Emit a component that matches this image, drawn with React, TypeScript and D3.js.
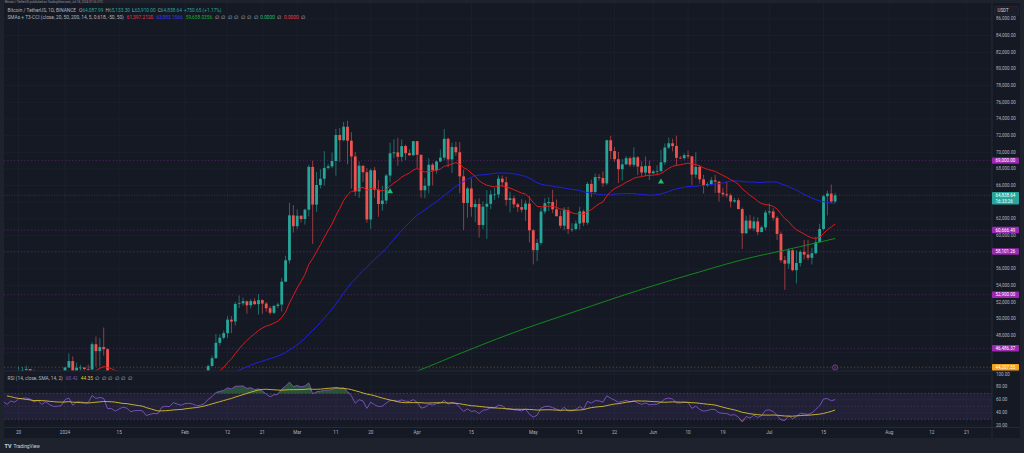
import React, { useEffect, useRef } from 'react';
import * as d3 from 'd3';

// BTCUSDT 1D (Binance). Closes before the first visible candle, only used to warm up EMA / SMA / RSI
const warmupStart = '2023-11-20';
const warmupCloses = [
  37475, 35813, 37432, 37289, 37720, 37796, 37479, 37254, 37831, 37858, 37712,
  38688, 39476, 39978, 41980, 44080, 43746, 43293, 44170, 43713, 43789, 41253, 41492, 42869, 43022,
];

// visible candles, from 2023-12-15 to 2024-07-18 (open = previous close)
const candleStart = '2023-12-15';
const firstOpen = 43022;
const closes = [
  // Dec
  41940, 42260, 41364, 42623, 42271, 43652, 43869, 43997, 43740, 43016, 43613, 42520, 43442, 42627, 42099, 42156, 42283,
  // Jan
  44179, 44946, 42845, 44151, 44162, 43989, 43943, 46970, 46139, 46627, 46368, 42853, 42842, 41732, 42511, 43154,
  42742, 41262, 41618, 41665, 41545, 39507, 39845, 40077, 39933, 41816, 42120, 42031, 43302, 42941, 42580,
  // Feb
  43082, 43200, 43011, 42582, 42708, 43098, 44349, 45288, 47132, 47751, 48299, 49917, 49699, 51795, 51880,
  52124, 51642, 52137, 51774, 52258, 51849, 51288, 50744, 51568, 51728, 54476, 57037, 62432, 61130,
  // Mar
  62387, 61988, 63113, 68245, 63724, 66075, 66823, 68124, 68313, 68955, 72078, 71452, 73072, 71388, 69499, 65300,
  68393, 67609, 61937, 67841, 65501, 63797, 64209, 67211, 69880, 69988, 69455, 70744, 69892, 69645, 71333,
  // Apr
  69702, 65446, 65981, 68508, 67838, 68896, 69360, 71620, 69146, 70631, 70006, 67116, 63924, 65661, 63419,
  63793, 61277, 63470, 63818, 64940, 64941, 66837, 66407, 64276, 64481, 63755, 63419, 63113, 63841, 60636,
  // May
  58254, 59123, 62890, 63891, 64031, 63162, 62334, 61187, 63049, 60793, 60793, 61448, 62901, 61552, 66206, 65235,
  67024, 66915, 66274, 71446, 70148, 69166, 67969, 68549, 69290, 68508, 69394, 68296, 67578, 68364, 67491,
  // Jun
  67706, 67751, 68804, 70567, 71082, 70757, 69342, 69306, 69648, 69508, 67321, 68243, 66756, 66012, 66191,
  66640, 66490, 65140, 64960, 64828, 64096, 64252, 63180, 60277, 61806, 60864, 61706, 60427, 60986, 62772,
  // Jul
  62899, 62135, 60208, 57050, 56639, 58232, 55857, 56714, 58051, 57725, 57340, 57890, 59204, 60797, 64724, 65043,
  64087, 64838.64,
];
const highs = [
  43080, 42424, 42600, 42750, 43500, 44283, 44240, 44400, 44000, 43950, 43800, 43600, 43680, 43790, 43120, 42600, 42900,
  44185, 45879, 45500, 44770, 44500, 44227, 44500, 47248, 47896, 47695, 48969, 46500, 43260, 43080, 43400, 43578,
  43198, 42930, 42200, 41870, 41885, 41680, 40130, 40550, 40280, 42225, 42200, 42842, 43305, 43880, 43745,
  43290, 43490, 43380, 43120, 43530, 43400, 44520, 45614, 48200, 48170, 48592, 50334, 50368, 52043, 52816,
  52572, 52200, 52394, 52485, 52985, 52370, 52020, 51550, 51690, 51960, 54910, 57588, 63913, 63680,
  63150, 62434, 63230, 68500, 69000, 67637, 67980, 70136, 68592, 69984, 72800, 72920, 73650, 73777, 72420, 70043,
  68920, 68230, 68124, 68030, 68240, 66650, 65970, 67400, 71150, 71561, 71727, 71552, 70913, 70355, 71366,
  71338, 69674, 66914, 69291, 68725, 69000, 70326, 72797, 71758, 71172, 71256, 71227, 67931, 65840, 66867,
  64365, 64475, 64117, 65450, 65442, 65723, 67233, 67208, 67075, 65275, 64789, 63923, 64370, 64228, 64734,
  60780, 59602, 63320, 64494, 64610, 65500, 64343, 62986, 63424, 63464, 61490, 61818, 63450, 63118, 66444, 66720,
  67451, 67400, 67700, 71515, 71979, 70650, 70041, 69220, 69563, 69500, 70600, 69552, 68920, 69500, 69000,
  67860, 68450, 70288, 71063, 71758, 71625, 71997, 69563, 69860, 70195, 69560, 69999, 68450, 67294, 66402,
  66999, 67298, 66488, 65738, 66482, 65066, 64525, 64522, 63369, 62400, 62486, 62293, 62200, 61197, 63058,
  63861, 63288, 62340, 60498, 57546, 58475, 58390, 58236, 58296, 59470, 59500, 58539, 59850, 61420, 64900, 65388,
  66128, 65133.3,
];
const lows = [
  41666, 41870, 41250, 40500, 41800, 42200, 43330, 43400, 43580, 42760, 42720, 41620, 42100, 42300, 41300, 41520, 41965,
  42180, 44150, 40750, 42630, 43300, 43400, 43580, 43180, 44300, 44300, 45600, 41500, 42440, 41720, 41720, 42050,
  42200, 40700, 40280, 41450, 41400, 39430, 38555, 39480, 39500, 39820, 41400, 41620, 41800, 42680, 42275,
  41884, 42580, 42880, 42222, 42260, 42575, 42800, 44330, 45242, 46800, 47540, 47710, 48300, 49225, 51310,
  51600, 50625, 51270, 51680, 50521, 50625, 50880, 50520, 50580, 51290, 50900, 54450, 56666, 60365,
  60778, 61590, 61320, 62300, 59005, 62848, 65655, 66000, 67944, 68088, 67194, 68845, 71334, 68555, 65630, 64780,
  64545, 66443, 61555, 60775, 64529, 62260, 63000, 63780, 66385, 69280, 68380, 68900, 69076, 69566, 69562,
  68062, 64550, 64493, 65064, 66011, 67435, 68824, 69040, 68210, 67518, 69571, 65086, 60660, 62134, 62274,
  61600, 59768, 60775, 59600, 63172, 64277, 64500, 65864, 63589, 62783, 63322, 62824, 62781, 61765, 59191,
  56552, 56937, 58848, 62599, 62955, 62700, 62300, 60877, 60648, 60187, 60430, 60632, 60750, 61143, 61300, 64602,
  65106, 66600, 65857, 66060, 69162, 68835, 66312, 66622, 68500, 68233, 68232, 67284, 67128, 67118, 66670,
  67386, 67257, 67612, 68507, 70390, 70119, 68420, 69222, 69125, 69202, 66051, 66902, 66251, 65056, 65870,
  66018, 65130, 64060, 64666, 64560, 63379, 63943, 63178, 58402, 60250, 60712, 60583, 60053, 60391, 60632,
  62496, 61808, 59454, 56771, 53485, 56016, 55724, 54260, 56289, 57157, 57052, 56542, 57756, 59203, 60632, 62430,
  63856, 63910,
];

// 200 SMA
const sma200Dates = [
  '2024-03-28', '2024-04-04', '2024-04-11', '2024-04-18', '2024-04-25', '2024-05-02', '2024-05-09', '2024-05-16',
  '2024-05-23', '2024-05-30', '2024-06-06', '2024-06-13', '2024-06-20', '2024-06-27', '2024-07-04', '2024-07-11', '2024-07-18',
];
const sma200Values = [
  43050, 44300, 45650, 46950, 48200, 49350, 50450, 51550, 52650, 53700, 54700, 55650, 56600, 57450, 58150, 58900, 59658,
];

const levelPrices = [69000, 60666.49, 58101.26, 52900, 46486.37];
const alertPrice = 44207.55;
const lastPrice = 64838.64;
const countdownText = '16:33:26';
const signalDates = ['2024-03-25', '2024-06-03'];
const signalPrices = [65300, 66450];

const timeTickDates = [
  '2023-12-20', '2024-01-01', '2024-01-15', '2024-02-01', '2024-02-12', '2024-02-21', '2024-03-01', '2024-03-11',
  '2024-03-20', '2024-04-01', '2024-04-15', '2024-05-01', '2024-05-13', '2024-05-22', '2024-06-01', '2024-06-10',
  '2024-06-19', '2024-07-01', '2024-07-15', '2024-08-01', '2024-08-12', '2024-08-21',
];
const timeTickLabels = ['20', '2024', '15', 'Feb', '12', '21', 'Mar', '11', '20', 'Apr', '15', 'May', '13', '22', 'Jun', '10', '19', 'Jul', '15', 'Aug', '12', '21'];
const priceTicks = d3.range(44000, 86001, 2000);
const rsiTicks = [20, 40, 60, 80, 100];

const legendOHLC = ['64,087.99', '65,133.30', '63,910.00', '64,838.64'];
const legendChange = '+750.65 (+1.17%)';
const maLegend = ['61,397.2120', '63,883.1566', '59,658.0356'];
const rsiLegend = ['60.42', '44.35'];

const W = 1024;
const H = 453;
const L = 4;
const R = 992;
const mainTop = 3;
const mainBot = 370.5;
const rsiTop = 371.5;
const rsiBot = 427.5;
const axisBot = 438;

const UP = '#26a69a';
const DOWN = '#ef5350';
const TEXT = '#b2b5be';
const FONT = 'Roboto, "Noto Sans", sans-serif';

const parse = (s: string) => new Date(s + 'T00:00:00Z');
const DAY = 864e5;

const App: React.FC = () => {
  const ref = useRef<SVGSVGElement>(null);

  useEffect(() => {
    if (!ref.current) return;
    const svg = d3.select(ref.current);
    svg.selectAll('*').remove();

    const x = d3.scaleUtc().domain([parse('2024-01-01'), parse('2024-08-21')]).range([65, 65 + 233 * 3.87]);
    const y = d3.scaleLinear().domain([44000, 86000]).range([368.96, 18.96]);
    const ry = d3.scaleLinear().domain([20, 100]).range([425.7, 374]);
    const fmt = d3.format(',.2f');

    // data prep
    const allCloses = [...warmupCloses, ...closes];
    const allDates = allCloses.map((_, i) => new Date(parse(warmupStart).getTime() + i * DAY));
    const candles = closes.map((c, i) => {
      const o = i === 0 ? firstOpen : closes[i - 1];
      return {
        date: new Date(parse(candleStart).getTime() + i * DAY),
        o, c,
        h: Math.max(highs[i], o, c),
        l: Math.min(lows[i], o, c),
      };
    });

    // EMA 20 (red)
    const ema: (number | null)[] = allCloses.map(() => null);
    const a = 2 / 21;
    for (let i = 19; i < allCloses.length; i++) {
      ema[i] = i === 19 ? d3.mean(allCloses.slice(0, 20))! : a * allCloses[i] + (1 - a) * (ema[i - 1] as number);
    }
    // SMA 50 (blue)
    const sma50: (number | null)[] = allCloses.map((_, i) => (i >= 49 ? d3.mean(allCloses.slice(i - 49, i + 1))! : null));
    // RSI 14 (Wilder)
    const rsi: (number | null)[] = allCloses.map(() => null);
    let ag = 0, al = 0;
    for (let i = 1; i < allCloses.length; i++) {
      const ch = allCloses[i] - allCloses[i - 1];
      const g = Math.max(ch, 0), lo = Math.max(-ch, 0);
      if (i <= 14) {
        ag += g / 14; al += lo / 14;
        if (i === 14) rsi[i] = 100 - 100 / (1 + ag / al);
      } else {
        ag = (ag * 13 + g) / 14; al = (al * 13 + lo) / 14;
        rsi[i] = al === 0 ? 100 : 100 - 100 / (1 + ag / al);
      }
    }
    const rsiMa: (number | null)[] = rsi.map((_, i) => (i >= 27 ? d3.mean(rsi.slice(i - 13, i + 1) as number[])! : null));

    // backgrounds
    svg.append('rect').attr('width', W).attr('height', H).attr('fill', '#151924');
    svg.append('rect').attr('width', W).attr('height', mainTop).attr('fill', '#1e222d');
    svg.append('rect').attr('y', axisBot).attr('width', W).attr('height', H - axisBot).attr('fill', '#1e222d');
    svg.append('rect').attr('y', mainTop).attr('width', L).attr('height', axisBot - mainTop).attr('fill', '#1e222d');
    svg.append('rect').attr('x', 1020).attr('y', mainTop).attr('width', 4).attr('height', axisBot - mainTop).attr('fill', '#1e222d');

    svg.append('text').attr('x', 5).attr('y', 2.6).attr('font-size', 3).attr('font-family', FONT).attr('fill', '#8a8e99')
      .text('Bitcoin / TetherUS published on TradingView.com, Jul 18, 2024 07:26 UTC');

    const defs = svg.append('defs');
    defs.append('clipPath').attr('id', 'clipMain').append('rect')
      .attr('x', L).attr('y', mainTop).attr('width', R - L).attr('height', mainBot - mainTop);
    defs.append('clipPath').attr('id', 'clipRsi').append('rect')
      .attr('x', L).attr('y', rsiTop).attr('width', R - L).attr('height', rsiBot - rsiTop);

    // grid
    const grid = svg.append('g').attr('stroke', '#1d2130').attr('stroke-width', 0.8);
    timeTickDates.forEach(d => {
      grid.append('line').attr('x1', x(parse(d))).attr('x2', x(parse(d))).attr('y1', mainTop).attr('y2', rsiBot);
    });
    priceTicks.forEach(p => {
      grid.append('line').attr('x1', L).attr('x2', R).attr('y1', y(p)).attr('y2', y(p));
    });
    rsiTicks.forEach(t => {
      grid.append('line').attr('x1', L).attr('x2', R).attr('y1', ry(t)).attr('y2', ry(t));
    });

    // main pane
    const main = svg.append('g').attr('clip-path', 'url(#clipMain)');

    levelPrices.forEach(p => {
      main.append('line').attr('x1', L).attr('x2', R).attr('y1', y(p)).attr('y2', y(p))
        .attr('stroke', '#9c27b0').attr('stroke-opacity', 0.55).attr('stroke-width', 0.8).attr('stroke-dasharray', '1.2,2.2');
    });
    main.append('line').attr('x1', L).attr('x2', R).attr('y1', y(alertPrice)).attr('y2', y(alertPrice))
      .attr('stroke', '#ff9800').attr('stroke-opacity', 0.45).attr('stroke-width', 0.8).attr('stroke-dasharray', '1.2,2.2');
    main.append('line').attr('x1', L).attr('x2', R).attr('y1', y(lastPrice)).attr('y2', y(lastPrice))
      .attr('stroke', '#5d606b').attr('stroke-opacity', 0.6).attr('stroke-width', 0.7).attr('stroke-dasharray', '1,1.5');

    const bw = 2.8;
    const cg = main.append('g');
    cg.selectAll('line.wick').data(candles).join('line')
      .attr('x1', d => x(d.date)).attr('x2', d => x(d.date))
      .attr('y1', d => y(d.h)).attr('y2', d => y(d.l))
      .attr('stroke', d => (d.c >= d.o ? UP : DOWN)).attr('stroke-opacity', 0.75).attr('stroke-width', 0.8);
    cg.selectAll('rect.body').data(candles).join('rect')
      .attr('x', d => x(d.date) - bw / 2).attr('width', bw)
      .attr('y', d => y(Math.max(d.o, d.c)))
      .attr('height', d => Math.max(0.7, Math.abs(y(d.o) - y(d.c))))
      .attr('fill', d => (d.c >= d.o ? UP : DOWN));

    const series = (vals: (number | null)[]) => vals.map((v, i) => ({ d: allDates[i], v }));
    const line = d3.line<{ d: Date; v: number | null }>()
      .defined(p => p.v != null)
      .x(p => x(p.d)).y(p => y(p.v as number));

    main.append('path').datum(series(sma50)).attr('d', line).attr('fill', 'none').attr('stroke', '#1f22e0').attr('stroke-width', 1);
    main.append('path').datum(series(ema)).attr('d', line).attr('fill', 'none').attr('stroke', '#e01b1b').attr('stroke-width', 1);
    const line200 = d3.line<number>().curve(d3.curveMonotoneX)
      .x((_, i) => x(parse(sma200Dates[i]))).y(v => y(v));
    main.append('path').datum(sma200Values).attr('d', line200).attr('fill', 'none').attr('stroke', '#14871e').attr('stroke-width', 1);

    const tri = d3.symbol(d3.symbolTriangle, 15);
    signalDates.forEach((d, i) => {
      main.append('path').attr('d', tri()).attr('fill', '#1fbf6b')
        .attr('transform', `translate(${x(parse(d))},${y(signalPrices[i])})`);
    });

    // event marker
    const ev = svg.append('g').attr('transform', `translate(${x(candles[candles.length - 1].date)},${mainBot - 3})`);
    ev.append('circle').attr('r', 2.6).attr('fill', '#151924').attr('stroke', '#ab47bc').attr('stroke-width', 0.7);
    ev.append('path').attr('d', 'M0.6,-1.6L-0.8,0.2L0.6,0.2L-0.6,1.6').attr('fill', 'none').attr('stroke', '#ab47bc').attr('stroke-width', 0.5);

    // legend
    const leg1 = svg.append('text').attr('x', 7.5).attr('y', 11.6).attr('font-size', 4.8).attr('font-family', FONT).attr('fill', TEXT);
    leg1.append('tspan').text('Bitcoin / TetherUS, 1D, BINANCE');
    ['O', 'H', 'L', 'C'].forEach((k, i) => {
      leg1.append('tspan').attr('dx', i === 0 ? 3 : 2).text(k);
      leg1.append('tspan').attr('fill', UP).text(legendOHLC[i]);
    });
    leg1.append('tspan').attr('dx', 2).attr('fill', UP).text(legendChange);

    const leg2 = svg.append('text').attr('x', 7.5).attr('y', 19.3).attr('font-size', 4.8).attr('font-family', FONT).attr('fill', TEXT);
    leg2.append('tspan').text('SMAs + T3-CCI (close, 20, 50, 200, 14, 5, 0.618, -50, 50)');
    const maColors = ['#f23645', '#3a3af0', '#1fae35'];
    maLegend.forEach((v, i) => leg2.append('tspan').attr('dx', 3).attr('fill', maColors[i]).text(v));
    for (let i = 0; i < 7; i++) leg2.append('tspan').attr('dx', 2.5).text('∅');
    leg2.append('tspan').attr('dx', 2.5).attr('fill', '#1fbf6b').text('0.0000');
    leg2.append('tspan').attr('dx', 2.5).text('∅');
    leg2.append('tspan').attr('dx', 2.5).attr('fill', '#f23645').text('0.0000');
    leg2.append('tspan').attr('dx', 2.5).text('∅');

    // rsi pane
    const rp = svg.append('g').attr('clip-path', 'url(#clipRsi)');
    rp.append('rect').attr('x', L).attr('width', R - L).attr('y', ry(70)).attr('height', ry(30) - ry(70))
      .attr('fill', '#7e57c2').attr('fill-opacity', 0.12);
    [70, 50, 30].forEach(t => {
      rp.append('line').attr('x1', L).attr('x2', R).attr('y1', ry(t)).attr('y2', ry(t))
        .attr('stroke', '#787b86').attr('stroke-opacity', t === 50 ? 0.35 : 0.55).attr('stroke-width', 0.7).attr('stroke-dasharray', '1.5,2');
    });
    const rs = series(rsi);
    const ob = d3.area<{ d: Date; v: number | null }>().defined(p => p.v != null)
      .x(p => x(p.d)).y0(ry(70)).y1(p => ry(Math.max(p.v as number, 70)));
    const os = d3.area<{ d: Date; v: number | null }>().defined(p => p.v != null)
      .x(p => x(p.d)).y0(ry(30)).y1(p => ry(Math.min(p.v as number, 30)));
    rp.append('path').datum(rs).attr('d', ob).attr('fill', '#4caf50').attr('fill-opacity', 0.38);
    rp.append('path').datum(rs).attr('d', os).attr('fill', '#f23645').attr('fill-opacity', 0.38);
    const rline = d3.line<{ d: Date; v: number | null }>().defined(p => p.v != null)
      .x(p => x(p.d)).y(p => ry(p.v as number));
    rp.append('path').datum(rs).attr('d', rline).attr('fill', 'none').attr('stroke', '#7e57c2').attr('stroke-width', 0.9);
    rp.append('path').datum(series(rsiMa)).attr('d', rline).attr('fill', 'none').attr('stroke', '#d9bf2c').attr('stroke-width', 0.9);

    const leg3 = svg.append('text').attr('x', 7.5).attr('y', 379.6).attr('font-size', 4.8).attr('font-family', FONT).attr('fill', TEXT);
    leg3.append('tspan').text('RSI (14, close, SMA, 14, 2)');
    leg3.append('tspan').attr('dx', 3).attr('fill', '#7e57c2').text(rsiLegend[0]);
    leg3.append('tspan').attr('dx', 3).attr('fill', '#e0c830').text(rsiLegend[1]);
    for (let i = 0; i < 6; i++) leg3.append('tspan').attr('dx', 2.5).text('∅');

    // separators
    const sep = svg.append('g').attr('stroke', '#2a2e39').attr('stroke-width', 0.8);
    sep.append('line').attr('x1', L).attr('x2', 1020).attr('y1', 371).attr('y2', 371);
    sep.append('line').attr('x1', R).attr('x2', R).attr('y1', mainTop).attr('y2', axisBot);
    sep.append('line').attr('x1', L).attr('x2', 1020).attr('y1', rsiBot).attr('y2', rsiBot);

    // price axis: tick labels hidden where a price tag sits on top of them
    const tagSpans: [number, number][] = [
      ...levelPrices.map(p => [y(p) - 3.2, y(p) + 3.2] as [number, number]),
      [y(alertPrice) - 3.2, y(alertPrice) + 3.2],
      [y(lastPrice) - 3.2, y(lastPrice) + 9.2],
    ];
    const hidden = (yy: number) => tagSpans.some(([a0, a1]) => yy > a0 - 1.8 && yy < a1 + 1.8);
    const ax = svg.append('g').attr('font-size', 4.5).attr('font-family', FONT).attr('fill', TEXT).attr('dominant-baseline', 'central');
    priceTicks.filter(p => y(p) > 17 && !hidden(y(p))).forEach(p => ax.append('text').attr('x', 996).attr('y', y(p)).text(fmt(p)));
    rsiTicks.forEach(t => ax.append('text').attr('x', 996).attr('y', ry(t)).text(fmt(t)));

    const tag = (p: number, bg: string, lines: string[]) => {
      const h = lines.length === 1 ? 6.4 : 12.4;
      const g = svg.append('g');
      g.append('rect').attr('x', R).attr('y', y(p) - 3.2).attr('width', 27).attr('height', h).attr('rx', 0.8).attr('fill', bg);
      lines.forEach((t, i) => g.append('text').attr('x', 995.5).attr('y', y(p) + i * 6)
        .attr('font-size', 4.5).attr('font-family', FONT).attr('fill', '#ffffff').attr('dominant-baseline', 'central').text(t));
    };
    levelPrices.forEach(p => tag(p, '#9c27b0', [fmt(p)]));
    tag(alertPrice, '#f7a21b', [fmt(alertPrice)]);
    tag(lastPrice, UP, [fmt(lastPrice), countdownText]);

    svg.append('rect').attr('x', 994.5).attr('y', 6.5).attr('width', 24).attr('height', 8.5).attr('rx', 1)
      .attr('fill', '#1a1e29').attr('stroke', '#2a2e39').attr('stroke-width', 0.6);
    svg.append('text').attr('x', 997.5).attr('y', 10.9).attr('font-size', 4.5).attr('font-family', FONT)
      .attr('fill', '#d1d4dc').attr('dominant-baseline', 'central').text('USDT');

    // time axis
    const tx = svg.append('g').attr('font-size', 4.6).attr('font-family', FONT).attr('fill', TEXT).attr('text-anchor', 'middle');
    timeTickDates.forEach((d, i) => {
      tx.append('text').attr('x', x(parse(d))).attr('y', 434.4).text(timeTickLabels[i]);
    });

    // footer logo
    svg.append('text').attr('x', 4.5).attr('y', 447.6).attr('font-size', 5.4).attr('font-weight', 'bold')
      .attr('font-family', FONT).attr('fill', '#d1d4dc').text('TV');
    svg.append('text').attr('x', 13.5).attr('y', 447.6).attr('font-size', 4.8)
      .attr('font-family', FONT).attr('fill', '#d1d4dc').text('TradingView');
  }, []);

  return (
    <svg
      ref={ref}
      width={W}
      height={H}
      style={{ position: 'absolute', left: 0, top: 0, display: 'block' }}
    />
  );
};

export default App;
